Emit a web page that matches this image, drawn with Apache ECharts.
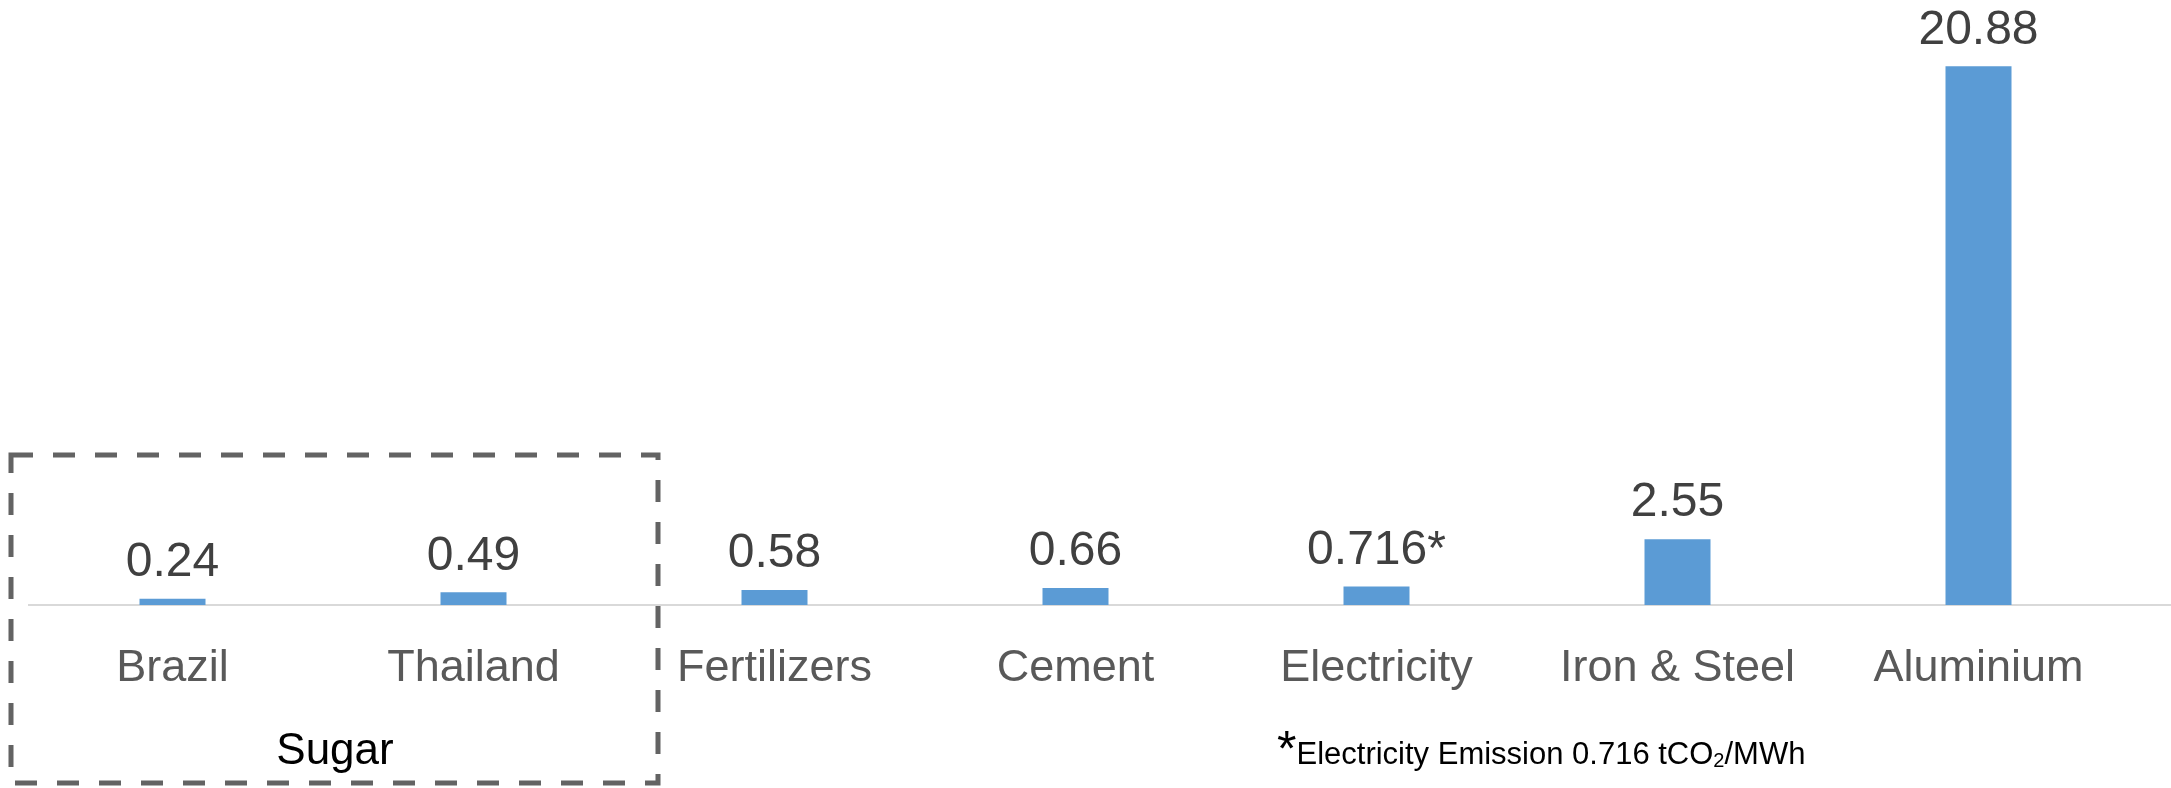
<!DOCTYPE html>
<html lang="en">
<head>
	<meta charset="UTF-8">
	<title>Emission intensity</title>
	<style>
		body, div {
			margin: 0;
			padding: 0;
		}
		#main {
			width: 2171px;
			height: 788px;
			background: #fff;
		}
	</style>
</head>
<body>
	<div id="main"></div>

	<script src="https://cdn.jsdelivr.net/npm/echarts@6/dist/echarts.min.js"></script>

	<script>
    // data
    var categories = ['Brazil', 'Thailand', 'Fertilizers', 'Cement', 'Electricity', 'Iron & Steel', 'Aluminium'];
    var values = [0.24, 0.49, 0.58, 0.66, 0.716, 2.55, 20.88];
    var notes = ['', '', '', '', '*', '', ''];

    var font = '"Liberation Sans", Arial, sans-serif';
    var myEcharts = echarts.init(document.getElementById('main'));

    var options = {
        animation: false,
        grid: {
            left: 22,
            right: 42,
            top: 0,
            bottom: 183
        },
        xAxis: {
            type: 'category',
            data: categories,
            axisLine: { show: false },
            axisTick: { show: false },
            axisLabel: {
                interval: 0,
                hideOverlap: false,
                margin: 41,
                color: '#595959',
                fontSize: 45,
                fontFamily: font
            }
        },
        yAxis: {
            type: 'value',
            min: 0,
            max: 23.45,
            show: false,
            splitLine: { show: false }
        },
        series: [
            {
                type: 'bar',
                data: values,
                barWidth: 66,
                itemStyle: { color: '#5B9BD5' },
                label: {
                    show: true,
                    position: 'top',
                    distance: 12,
                    color: '#404040',
                    fontSize: 48,
                    fontFamily: font,
                    formatter: function (p) {
                        return p.value + notes[p.dataIndex];
                    }
                }
            }
        ],
        graphic: [
            // baseline, runs past the plot like the original
            {
                type: 'line',
                shape: { x1: 28, y1: 605, x2: 2171, y2: 605 },
                style: { stroke: '#D9D9D9', lineWidth: 2 },
                z: 1
            },
            // sugar group box
            {
                type: 'rect',
                shape: { x: 11, y: 455, width: 647, height: 328 },
                style: { fill: 'none', stroke: '#636363', lineWidth: 5, lineDash: [22, 20] },
                z: 10
            },
            {
                type: 'text',
                x: 335,
                y: 752,
                style: {
                    text: 'Sugar',
                    fill: '#000',
                    font: '44px ' + font,
                    align: 'center',
                    verticalAlign: 'middle'
                },
                z: 10
            },
            // footnote
            {
                type: 'text',
                x: 1277,
                y: 755,
                style: {
                    text: '{a|*}{t|Electricity Emission 0.716 tCO}{s|2}{t|/MWh}',
                    fill: '#000',
                    verticalAlign: 'middle',
                    rich: {
                        a: { fontSize: 50, fontFamily: font, fill: '#000', padding: [0, 0, 6, 0] },
                        t: { fontSize: 31, fontFamily: font, fill: '#000' },
                        s: { fontSize: 20, fontFamily: font, fill: '#000', padding: [12, 0, 0, 0] }
                    }
                },
                z: 10
            }
        ]
    };

    myEcharts.setOption(options);
	</script>

</body>
</html>
